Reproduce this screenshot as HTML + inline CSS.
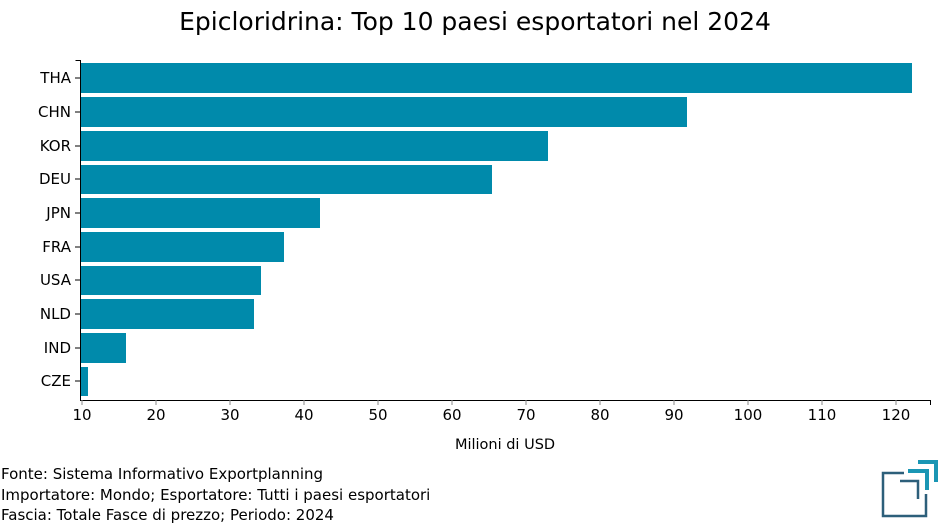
<!DOCTYPE html>
<html><head><meta charset="utf-8"><style>
body{margin:0;background:#fff;}
svg{display:block;font-family:"DejaVu Sans","Liberation Sans",sans-serif;}
</style></head><body>
<svg width="950" height="530" viewBox="0 0 950 530">
<text x="475" y="30" font-size="25" text-anchor="middle" fill="#000">Epicloridrina: Top 10 paesi esportatori nel 2024</text>
<g fill="#008aab">
<rect x="81" y="63" width="831" height="30"/>
<rect x="81" y="97" width="606" height="30"/>
<rect x="81" y="131" width="467" height="30"/>
<rect x="81" y="165" width="411" height="29"/>
<rect x="81" y="198" width="239" height="30"/>
<rect x="81" y="232" width="203" height="30"/>
<rect x="81" y="266" width="180" height="29"/>
<rect x="81" y="299" width="173" height="30"/>
<rect x="81" y="333" width="45" height="30"/>
<rect x="81" y="367" width="7" height="29"/>
</g>
<g stroke="#000" stroke-width="1" fill="none">
<path d="M75.5 60.5H80.5V400.5H930.5V405"/>
</g>
<g font-size="15" text-anchor="end" fill="#000">
<text x="71" y="83">THA</text><text x="71" y="117">CHN</text><text x="71" y="151">KOR</text>
<text x="71" y="184">DEU</text><text x="71" y="218">JPN</text><text x="71" y="252">FRA</text>
<text x="71" y="285">USA</text><text x="71" y="319">NLD</text><text x="71" y="353">IND</text>
<text x="71" y="386">CZE</text>
</g>
<g stroke="#000"><path d="M75 78H80M75 112H80M75 146H80M75 179H80M75 213H80M75 247H80M75 280H80M75 314H80M75 348H80M75 381H80"/></g>
<g stroke="#888"><path d="M82 400v5M156 400v5M230 400v5M304 400v5M378 400v5M452 400v5M526 400v5M600 400v5M674 400v5M748 400v5M822 400v5M896 400v5"/></g>
<g font-size="15" text-anchor="middle" fill="#000">
<text x="82" y="420">10</text><text x="156" y="420">20</text><text x="230" y="420">30</text><text x="304" y="420">40</text><text x="378" y="420">50</text><text x="452" y="420">60</text><text x="526" y="420">70</text><text x="600" y="420">80</text><text x="674" y="420">90</text><text x="748" y="420">100</text><text x="822" y="420">110</text><text x="896" y="420">120</text>
</g>
<text x="505" y="449" font-size="14.5" text-anchor="middle">Milioni di USD</text>
<g font-size="15" fill="#000">
<text x="1" y="479">Fonte: Sistema Informativo Exportplanning</text>
<text x="1" y="500">Importatore: Mondo; Esportatore: Tutti i paesi esportatori</text>
<text x="1" y="520">Fascia: Totale Fasce di prezzo; Periodo: 2024</text>
</g>
<g fill="none" stroke-width="2.5">
<path d="M904 473H883V516H926V494" stroke="#2d5f7a"/>
<path d="M900 481H918V499" stroke="#2d5f7a"/>
<path d="M908 471H927V490" stroke="#1a96b4" stroke-width="4"/>
<path d="M918 462H936V482" stroke="#1a96b4" stroke-width="4"/>
</g>
</svg>
</body></html>
